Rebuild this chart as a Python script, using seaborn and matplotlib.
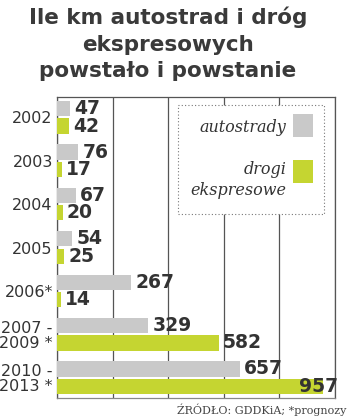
import matplotlib
matplotlib.use("Agg")
import matplotlib.pyplot as plt
import seaborn as sns
import pandas as pd
from matplotlib.patches import Rectangle

# ---- data ----
categories = ["2002", "2003", "2004", "2005", "2006*", "2007 -\n2009 *", "2010 -\n2013 *"]
autostrady = [47, 76, 67, 54, 267, 329, 657]
drogi_ekspresowe = [42, 17, 20, 25, 14, 582, 957]
series_names = ["autostrady", "drogi\nekspresowe"]
colors = ["#c9c9c9", "#c5d531"]
xticks = [0, 200, 400, 600, 800, 1000]

title = "Ile km autostrad i dróg\nekspresowych\npowstało i powstanie"
source = "ŹRÓDŁO: GDDKiA; *prognozy"

df = pd.DataFrame({
    "okres": categories * 2,
    "km": autostrady + drogi_ekspresowe,
    "typ": [series_names[0]] * len(categories) + [series_names[1]] * len(categories),
})

sns.set_theme(style="white")
plt.rcParams["font.family"] = ["DejaVu Sans"]

fig = plt.figure(figsize=(3.5, 4.18), dpi=100)
ax = fig.add_axes([57 / 350, 20 / 418, 278 / 350, 301 / 418])

sns.barplot(data=df, y="okres", x="km", hue="typ", hue_order=series_names,
            order=categories, palette=colors, orient="h", width=0.8, gap=0.12,
            saturation=1, legend=False, ax=ax, zorder=3, linewidth=0)

ax.set_xlim(0, 1000)
ax.set_ylim(6.47, -0.47)
ax.set_xticks(xticks)
ax.set_xticklabels([])
ax.set_xlabel("")
ax.set_ylabel("")
ax.set_yticks(range(len(categories)))
ax.set_yticklabels(categories, linespacing=1.0, multialignment="right",
                   fontsize=11.5, color="#333333")
ax.tick_params(axis="both", length=0)
ax.tick_params(axis="y", pad=3)
ax.xaxis.grid(True, color="#555555", lw=0.9)
ax.yaxis.grid(False)
ax.set_axisbelow(True)
for s in ax.spines.values():
    s.set_visible(True)
    s.set_color("#555555")
    s.set_linewidth(0.9)
ax.spines["bottom"].set_color("#888888")

# value labels
xmax = ax.get_xlim()[1]
for cont in ax.containers:
    anns = ax.bar_label(cont, fmt="{:g}", padding=3, fontsize=13.5, fontweight="bold",
                        color="#333333", zorder=6)
    for ann, v in zip(anns, cont.datavalues):
        if v > 0.85 * xmax:
            ann.set_horizontalalignment("right")
            ann.xyann = (11, 0)

# legend box (drawn as decoration)
ax.add_patch(Rectangle((0.435, 0.611), 0.525, 0.362, transform=ax.transAxes,
                       facecolor="white", edgecolor="#777777", linestyle=(0, (1, 2)),
                       lw=0.8, zorder=4))
ax.add_patch(Rectangle((0.849, 0.867), 0.072, 0.077, transform=ax.transAxes,
                       facecolor=colors[0], edgecolor="none", zorder=5))
ax.add_patch(Rectangle((0.849, 0.714), 0.072, 0.077, transform=ax.transAxes,
                       facecolor=colors[1], edgecolor="none", zorder=5))
ax.text(0.824, 0.900, series_names[0], transform=ax.transAxes, ha="right", va="center",
        fontsize=11.5, family="DejaVu Serif", style="italic", color="#333333", zorder=6)
ax.text(0.824, 0.724, series_names[1], transform=ax.transAxes, ha="right", va="center",
        multialignment="right", linespacing=1.29,
        fontsize=11.5, family="DejaVu Serif", style="italic", color="#333333", zorder=6)

fig.text(0.48, 1 - 7 / 418, title, ha="center", va="top", fontsize=15.5,
         fontweight="bold", color="#3a3a3a", linespacing=1.38)
fig.text(346 / 350, 1 - 410 / 418, source, ha="right", va="center", fontsize=8,
         family="DejaVu Serif", color="#444444")

fig.savefig("out.png", dpi=100)
